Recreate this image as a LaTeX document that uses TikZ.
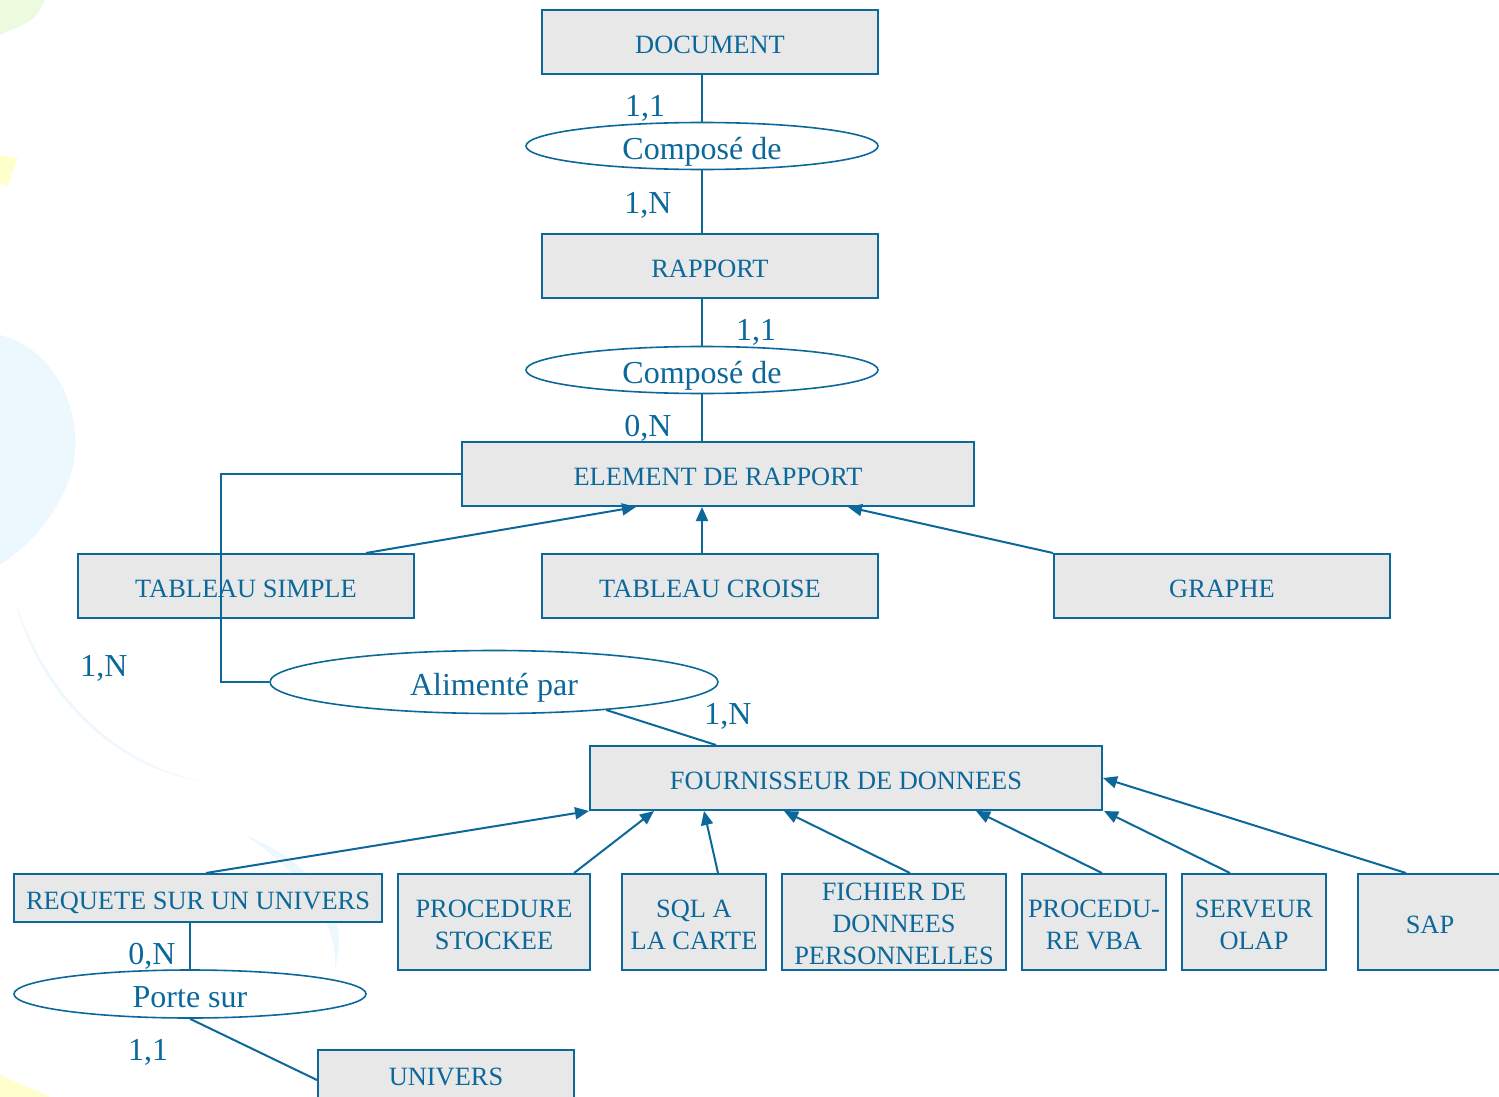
\documentclass[tikz,border=0pt]{standalone}
\usepackage{fontspec}
\setmainfont{Liberation Serif}
\usepackage{tikz}
\usepackage{xcolor}
\usetikzlibrary{arrows.meta,shapes.geometric,calc}
\definecolor{merise}{RGB}{12,104,154}
\definecolor{boxgray}{RGB}{232,232,232}
\definecolor{bgblue}{RGB}{236,247,254}
\definecolor{bgyellow}{RGB}{255,255,205}
\definecolor{bggreen}{RGB}{236,250,222}
\tikzset{
  basenode/.style = {align=center, inner sep=0pt, text centered, text=merise},
  entity_node/.style = {basenode, rectangle, draw=merise, fill=boxgray, line width=1pt,
    font=\fontsize{13.2}{16}\selectfont, text height=11.4pt, text depth=0pt},
  std_entity/.style = {entity_node, minimum width=168pt, minimum height=32pt},
  wide_entity/.style = {entity_node, minimum width=256pt, minimum height=32pt},
  leaf_entity/.style = {entity_node, minimum width=#1, minimum height=48pt},
  two_lines/.style = {text height=27.4pt},
  three_lines/.style = {text height=42.6pt},
  assoc_node/.style = {basenode, ellipse, draw=merise, line width=0.8pt,
    font=\fontsize{16}{18}\selectfont, text height=13.4pt, text depth=0pt},
  card_node/.style = {basenode, font=\fontsize{16}{18}\selectfont},
  link/.style = {draw=merise, line width=1pt},
  isa/.style = {link, ->},
}

\begin{document}
\begin{tikzpicture}[x=0.5pt, y=-0.5pt, >={Triangle[length=7pt,width=6pt]}]
    \useasboundingbox (0,0) rectangle (1499,1097);
    % faint background
    \fill[bggreen] (0,0) -- (45,0) .. controls (35,20) .. (0,35) -- cycle;
    \fill[bgyellow] (0,155) -- (18,158) -- (7,187) -- (0,183) -- cycle;
    \fill[bgblue] (0,335) .. controls (60,350) and (85,420) .. (72,470) .. controls (58,520) and (22,550) .. (0,565) -- cycle;
    \fill[bgblue] (15,600) .. controls (40,700) and (120,770) .. (205,782) .. controls (115,765) and (45,695) .. (15,600) -- cycle;
    \fill[bgblue] (245,835) .. controls (312,862) and (352,912) .. (335,968) .. controls (338,920) and (300,872) .. (245,835) -- cycle;
    \fill[bgyellow] (0,1075) -- (50,1097) -- (0,1097) -- cycle;

    % entities
    \node [std_entity] (doc) at (710,42) {DOCUMENT};
    \node [std_entity] (rapport) at (710,266) {RAPPORT};
    \node [wide_entity] (elem) at (718,474) {ELEMENT DE RAPPORT};
    \node [std_entity] (ts) at (246,586) {TABLEAU SIMPLE};
    \node [std_entity] (tc) at (710,586) {TABLEAU CROISE};
    \node [std_entity] (gr) at (1222,586) {GRAPHE};
    \node [wide_entity] (fourn) at (846,778) {FOURNISSEUR DE DONNEES};
    \node [entity_node, minimum width=184pt, minimum height=24pt] (req) at (198,898) {REQUETE SUR UN UNIVERS};
    \node [leaf_entity=96pt, two_lines] (proc) at (494,922) {PROCEDURE\\STOCKEE};
    \node [leaf_entity=72pt, two_lines] (sql) at (694,922) {SQL A\\LA CARTE};
    \node [leaf_entity=112pt, three_lines] (fich) at (894,922) {FICHIER DE\\DONNEES\\PERSONNELLES};
    \node [leaf_entity=72pt, two_lines] (vba) at (1094,922) {PROCEDU-\\RE VBA};
    \node [leaf_entity=72pt, two_lines] (olap) at (1254,922) {SERVEUR\\OLAP};
    \node [leaf_entity=72pt] (sap) at (1430,922) {SAP};
    \node [entity_node, minimum width=128pt, minimum height=30pt, text height=8.7pt, text depth=3.7pt] (univ) at (446,1080) {UNIVERS};

    % associations
    \node [assoc_node, minimum width=176pt, minimum height=23.5pt] (comp1) at (702,146) {Composé de};
    \node [assoc_node, minimum width=176pt, minimum height=23.5pt] (comp2) at (702,370) {Composé de};
    \node [assoc_node, minimum width=224pt, minimum height=31.5pt] (alim) at (494,682) {Alimenté par};
    \node [assoc_node, minimum width=176pt, minimum height=24pt] (porte) at (190,994) {Porte sur};
    \coordinate (elbow) at (221,682);

    % cardinalities
    \node [card_node] (c1) at (645,108) {1,1};
    \node [card_node] (c2) at (648,205) {1,N};
    \node [card_node] (c3) at (756,332) {1,1};
    \node [card_node] (c4) at (648,428) {0,N};
    \node [card_node] (c5) at (104,668) {1,N};
    \node [card_node] (c6) at (728,716) {1,N};
    \node [card_node] (c7) at (152,956) {0,N};
    \node [card_node] (c8) at (148,1052) {1,1};

    % links
    \draw [link] (comp1) -- (comp1 |- doc.south);
    \draw [link] (comp1) -- (comp1 |- rapport.north);
    \draw [link] (comp2) -- (comp2 |- rapport.south);
    \draw [link] (comp2) -- (comp2 |- elem.north);
    \draw [link] (elem.west) -| (elbow) -- (alim.west);
    \draw [link] (alim.-14) -- ($(fourn.north)+(-130,0)$);
    \draw [link] (porte) -- (porte |- req.south);
    \draw [link] (porte.south) -- (univ.west);

    % specialisations
    \draw [isa] ($(ts.north)+(120,0)$) -- ($(elem.south)+(-82,0)$);
    \draw [isa] ($(tc.north)+(-8,0)$) -- ($(elem.south)+(-16,0)$);
    \draw [isa] (gr.north west) -- ($(elem.south)+(130,0)$);
    \draw [isa] ($(req.north)+(8,0)$) -- (fourn.south west);
    \draw [isa] ($(proc.north)+(80,0)$) -- ($(fourn.south)+(-192,0)$);
    \draw [isa] ($(sql.north)+(24,0)$) -- ($(fourn.south)+(-142,0)$);
    \draw [isa] ($(fich.north)+(16,0)$) -- ($(fourn.south)+(-62,0)$);
    \draw [isa] ($(vba.north)+(8,0)$) -- ($(fourn.south)+(130,0)$);
    \draw [isa] ($(olap.north)+(-24,0)$) -- ($(fourn.south)+(258,0)$);
    \draw [isa] ($(sap.north)+(-24,0)$) -- (fourn.east);
\end{tikzpicture}
\end{document}
